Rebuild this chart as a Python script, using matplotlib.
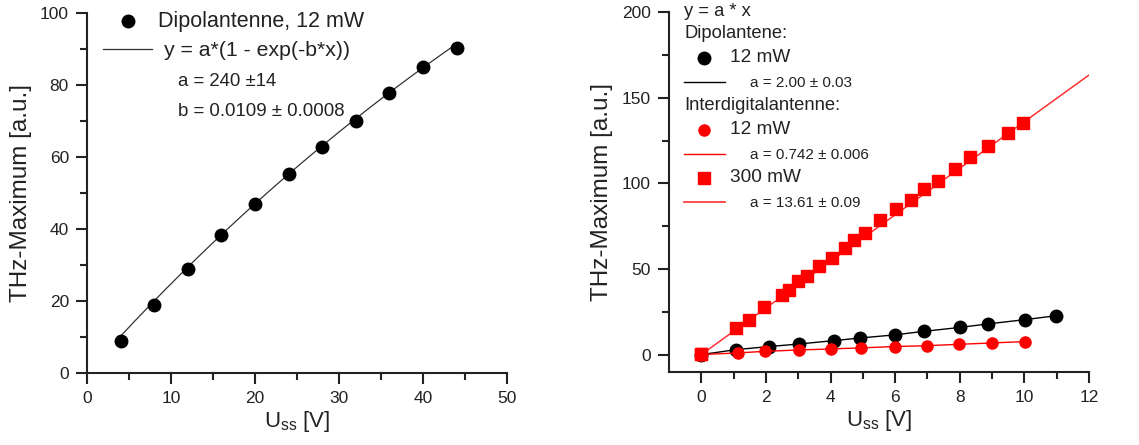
import matplotlib
matplotlib.use("Agg")
import matplotlib.pyplot as plt
import numpy as np
from matplotlib.lines import Line2D

plt.rcParams['font.family'] = ['Liberation Sans', 'DejaVu Sans']
plt.rcParams['mathtext.fontset'] = 'custom'
plt.rcParams['mathtext.rm'] = 'Liberation Sans'

W, H = 1139, 445
TXT = '#222222'

# linkes Diagramm: Dipolantenne, 12 mW
dip_x = [4, 8, 12, 16, 20, 24, 28, 32, 36, 40, 44]
dip_y = [8.8, 18.8, 28.8, 38.3, 46.9, 55.4, 62.8, 69.9, 77.7, 85.0, 90.3]
fit_a, fit_b = 240, 0.0109

# rechtes Diagramm
d12_x = [0, 1.08, 2.10, 3.03, 4.12, 4.92, 5.98, 6.90, 8.02, 8.86, 10.01, 10.98]
d12_y = [0, 2.9, 4.7, 6.2, 8.2, 9.7, 11.5, 13.6, 15.9, 17.9, 20.4, 22.7]
i12_x = [0, 1.15, 1.97, 3.03, 4.00, 4.93, 5.98, 6.99, 7.98, 9.00, 10.01]
i12_y = [0, 1.0, 1.9, 2.7, 3.3, 3.9, 4.7, 5.2, 6.0, 6.8, 7.6]
i300_x = [0, 1.08, 1.48, 1.95, 2.49, 2.71, 2.99, 3.27, 3.63, 4.05, 4.44, 4.74,
          5.06, 5.54, 6.04, 6.50, 6.89, 7.34, 7.85, 8.33, 8.86, 9.50, 9.97]
i300_y = [0.4, 15.3, 20.4, 27.6, 34.8, 37.7, 42.9, 46.0, 51.8, 56.7, 62.5, 67.2,
          71.1, 78.8, 85.2, 90.5, 96.5, 101.7, 108.5, 115.5, 121.6, 129.3, 135.1]
a300 = 13.61


def fx(px):
    return px / W


def fy(py):
    return 1 - py / H


def style(ax):
    for s in ['top', 'right']:
        ax.spines[s].set_visible(False)
    for s in ['left', 'bottom']:
        ax.spines[s].set_linewidth(1.5)
        ax.spines[s].set_color(TXT)
    ax.tick_params(which='major', direction='out', length=8, width=1.5,
                   labelsize=12.5, colors=TXT, pad=5)
    ax.tick_params(which='minor', direction='out', length=5, width=1.5, colors=TXT)


fig = plt.figure(figsize=(W / 100, H / 100), dpi=100)

# ---- links ----
ax1 = fig.add_axes([fx(87), fy(373), 420 / W, 360 / H])
style(ax1)
ax1.set_xlim(0, 50)
ax1.set_ylim(0, 100)
ax1.set_xticks(np.arange(0, 51, 10))
ax1.set_xticks(np.arange(5, 50, 10), minor=True)
ax1.set_yticks(np.arange(0, 101, 20))
ax1.set_yticks(np.arange(10, 100, 20), minor=True)
xf = np.linspace(dip_x[0], dip_x[-1], 200)
ax1.plot(xf, fit_a * (1 - np.exp(-fit_b * xf)), color='#333333', lw=0.9)
ax1.plot(dip_x, dip_y, 'o', color='black', ms=9, clip_on=False)
ax1.set_xlabel('U$_{\\mathrm{ss}}$ [V]', fontsize=16, color=TXT, labelpad=2)
ax1.set_ylabel('THz-Maximum [a.u.]', fontsize=17.5, color=TXT, labelpad=6)

fig.add_artist(Line2D([fx(128)], [fy(21)], marker='o', color='black', ms=9, ls=''))
fig.text(fx(158), fy(21), 'Dipolantenne, 12 mW', fontsize=15.5, va='center', color=TXT)
fig.add_artist(Line2D([fx(103), fx(152)], [fy(49), fy(49)], color='#333333', lw=0.9))
fig.text(fx(164), fy(50), 'y = a*(1 - exp(-b*x))', fontsize=15.3, va='center', color=TXT)
fig.text(fx(178), fy(82), 'a = 240 \u00b114', fontsize=13.4, va='center', color=TXT)
fig.text(fx(178), fy(112), 'b = 0.0109 \u00b1 0.0008', fontsize=13.4, va='center', color=TXT)

# ---- rechts ----
ax2 = fig.add_axes([fx(669), fy(371.7), 420 / W, 359.4 / H])
style(ax2)
ax2.set_xlim(-1, 12)
ax2.set_ylim(-10, 200)
ax2.set_xticks(np.arange(0, 13, 2))
ax2.set_xticks(np.arange(1, 12, 2), minor=True)
ax2.set_yticks(np.arange(0, 201, 50))
ax2.set_yticks(np.arange(25, 200, 50), minor=True)
xl = np.array([0, 12])
ax2.plot(xl, a300 * xl, color='#ff2020', lw=1.0)
ax2.plot(i300_x, i300_y, 's', color='#ff0000', ms=8, zorder=3)
ax2.plot(d12_x, d12_y, '-o', color='black', lw=1.0, ms=9, zorder=2)
ax2.plot(i12_x, i12_y, '-o', color='#ff0000', lw=1.0, ms=8, zorder=4)
ax2.plot([i300_x[0]], [i300_y[0]], 's', color='#ff0000', ms=8, zorder=5)
ax2.set_xlabel('U$_{\\mathrm{ss}}$ [V]', fontsize=16, color=TXT, labelpad=2)
ax2.set_ylabel('THz-Maximum [a.u.]', fontsize=17.5, color=TXT, labelpad=6)

fig.text(fx(684), fy(11), 'y = a * x', fontsize=13.2, va='center', color=TXT)
fig.text(fx(684), fy(34), 'Dipolantene:', fontsize=13.2, va='center', color=TXT)
fig.add_artist(Line2D([fx(704)], [fy(58)], marker='o', color='black', ms=9, ls=''))
fig.text(fx(730), fy(58), '12 mW', fontsize=13.7, va='center', color=TXT)
fig.add_artist(Line2D([fx(684), fx(725)], [fy(82), fy(82)], color='black', lw=1.0))
fig.text(fx(750), fy(83), 'a = 2.00 \u00b1 0.03', fontsize=11, va='center', color=TXT)
fig.text(fx(684), fy(106), 'Interdigitalantenne:', fontsize=13.2, va='center', color=TXT)
fig.add_artist(Line2D([fx(704)], [fy(130)], marker='o', color='#ff0000', ms=8, ls=''))
fig.text(fx(730), fy(130), '12 mW', fontsize=13.7, va='center', color=TXT)
fig.add_artist(Line2D([fx(684), fx(725)], [fy(154), fy(154)], color='#ff0000', lw=1.0))
fig.text(fx(750), fy(155), 'a = 0.742 \u00b1 0.006', fontsize=11, va='center', color=TXT)
fig.add_artist(Line2D([fx(704)], [fy(178)], marker='s', color='#ff0000', ms=8, ls=''))
fig.text(fx(730), fy(178), '300 mW', fontsize=13.7, va='center', color=TXT)
fig.add_artist(Line2D([fx(684), fx(725)], [fy(202), fy(202)], color='#ff4040', lw=1.3))
fig.text(fx(750), fy(203), 'a = 13.61 \u00b1 0.09', fontsize=11, va='center', color=TXT)

fig.savefig('out.png', dpi=100)
